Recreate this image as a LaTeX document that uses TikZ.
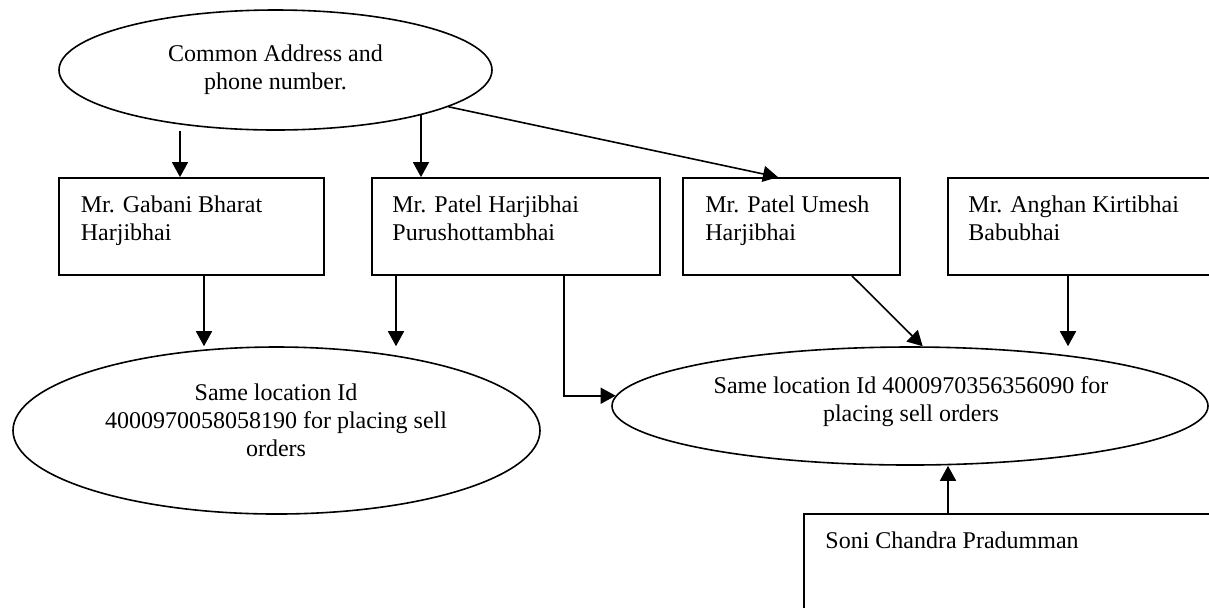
\documentclass[tikz,border=0pt]{standalone}
\usepackage{fontspec}
\setmainfont{Liberation Serif}
\usetikzlibrary{arrows.meta,shapes.geometric}

\tikzset{
  person/.style={draw, line width=0.9pt, rectangle, minimum height=48.5pt, inner sep=0pt},
  oval/.style={draw, line width=0.8pt, ellipse, inner sep=0pt},
  words/.style={inner sep=0pt, font=\fontsize{12pt}{14pt}\selectfont},
  arr/.style={-{Triangle[length=7.5pt,width=8pt]}, line width=0.8pt},
}

\begin{document}
\begin{tikzpicture}[x=0.5pt, y=-0.5pt]
  \useasboundingbox (0,0) rectangle (1209,607);
  \clip (0,0) rectangle (1209,607);

  % common address
  \node[oval, words, align=center, minimum width=216.5pt, minimum height=60pt] (common) at (275.5,70) {Common Address and\\phone number.};

  % the persons
  \node[person, minimum width=132.5pt] (gabani) at (191.5,226.5) {};
  \node[person, minimum width=144pt] (harji) at (516,226.5) {};
  \node[person, minimum width=108.5pt] (umesh) at (791.5,226.5) {};
  \node[person, minimum width=144pt] (anghan) at (1092,226.5) {};
  \node[person, minimum width=218pt, minimum height=63pt] (soni) at (1022,577) {};
  \node[words, align=left, anchor=north west] (gabani-txt) at (80.5,195.6) {Mr. Gabani Bharat\\Harjibhai};
  \node[words, align=left, anchor=north west] (harji-txt) at (392,195.6) {Mr. Patel Harjibhai\\Purushottambhai};
  \node[words, align=left, anchor=north west] (umesh-txt) at (705,195.6) {Mr. Patel Umesh\\Harjibhai};
  \node[words, align=left, anchor=north west] (anghan-txt) at (968,195.6) {Mr. Anghan Kirtibhai\\Babubhai};
  \node[words, align=left, anchor=north west] (soni-txt) at (825,531.6) {Soni Chandra Pradumman};

  % location ids
  \node[oval, minimum width=263.5pt, minimum height=83.5pt] (locA) at (276.5,430.5) {};
  \node[oval, minimum width=298pt, minimum height=59pt] (locB) at (910,406) {};
  \node[words, align=center] (locA-txt) at (276,420.5) {Same location Id\\4000970058058190 for placing sell\\orders};
  \node[words, align=center] (locB-txt) at (911,401.5) {Same location Id 4000970356356090 for\\placing sell orders};

  \draw[arr] ([xshift=-5.75pt]gabani.north |- common.south) -- ([xshift=-5.75pt]gabani.north);
  \draw[arr] ([xshift=-47.5pt]harji.north |- common.343) -- ([xshift=-47.5pt]harji.north);
  \draw[arr] (common.348) -- ([xshift=-6.75pt]umesh.north);
  \draw[arr] ([xshift=6.25pt]gabani.south) -- ([xshift=6.25pt]gabani.south |- locA.north);
  \draw[arr] ([xshift=-60pt]harji.south) -- ([xshift=-60pt]harji.south |- locA.north);
  \draw[arr] ([xshift=24pt]harji.south) |- (locB.178);
  \draw[arr] ([xshift=30.25pt]umesh.south) -- (locB.78);
  \draw[arr] ([xshift=-12pt]anghan.south) -- ([xshift=-12pt]anghan.south |- locB.north);
  \draw[arr] ([xshift=-37pt]soni.north) -- ([xshift=-37pt]soni.north |- locB.south);
\end{tikzpicture}
\end{document}
